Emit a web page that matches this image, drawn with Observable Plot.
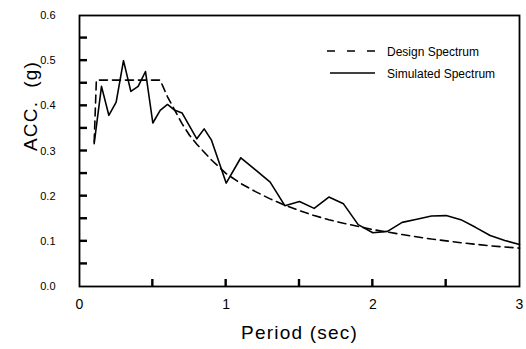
<!DOCTYPE html>
<html><head><meta charset="utf-8">
<script src="https://cdn.jsdelivr.net/npm/d3@7"></script>
<script src="https://cdn.jsdelivr.net/npm/@observablehq/plot@0.6"></script>
<style>
body{margin:0;background:#fff;}
#wrap{position:relative;width:526px;height:349px;font-family:"Liberation Sans",Arial,Helvetica,sans-serif;}
#overlay{position:absolute;left:0;top:0;pointer-events:none;}
</style></head><body><div id="wrap"></div>
<script>
const seriesNames = ["Design Spectrum", "Simulated Spectrum"];
const designPeriod = [0.10, 0.115, 0.55, 0.6, 0.65, 0.7, 0.75, 0.8, 0.9, 1.0, 1.1, 1.2, 1.3, 1.4, 1.5, 1.6, 1.7, 1.8, 2.0, 2.2, 2.4, 2.6, 2.8, 3.0];
const designAcc    = [0.32, 0.457, 0.457, 0.42, 0.39, 0.36, 0.335, 0.315, 0.28, 0.25, 0.228, 0.21, 0.194, 0.18, 0.168, 0.157, 0.148, 0.14, 0.126, 0.115, 0.105, 0.097, 0.09, 0.085];
const simPeriod = [0.1, 0.15, 0.2, 0.25, 0.3, 0.35, 0.4, 0.45, 0.5, 0.55, 0.6, 0.65, 0.7, 0.8, 0.85, 0.9, 1.0, 1.1, 1.2, 1.3, 1.4, 1.5, 1.6, 1.7, 1.8, 1.9, 2.0, 2.1, 2.2, 2.3, 2.4, 2.5, 2.6, 2.7, 2.8, 2.9, 3.0];
const simAcc    = [0.316, 0.443, 0.379, 0.408, 0.500, 0.432, 0.443, 0.476, 0.362, 0.390, 0.403, 0.390, 0.384, 0.327, 0.349, 0.324, 0.229, 0.285, 0.258, 0.231, 0.179, 0.188, 0.173, 0.198, 0.183, 0.137, 0.119, 0.122, 0.142, 0.149, 0.156, 0.157, 0.148, 0.131, 0.113, 0.102, 0.093];
const xTicks = [0, 1, 2, 3];
const xMinorTicks = [0.5, 1, 1.5, 2, 2.5];
const yTicks = [0, 0.1, 0.2, 0.3, 0.4, 0.5, 0.6];
const yMinorTicks = [0.05, 0.1, 0.15, 0.2, 0.25, 0.3, 0.35, 0.4, 0.45, 0.5, 0.55];
const xLabel = "Period (sec)";
const yLabel = "ACC.  (g)";

const design = designPeriod.map((t, i) => ({t, a: designAcc[i]}));
const sim = simPeriod.map((t, i) => ({t, a: simAcc[i]}));

const W = 526, H = 349, mL = 79, mR = 7, mT = 15, mB = 63;
const xDomain = [0, 3], yDomain = [0, 0.6];
const xPerPx = (xDomain[1] - xDomain[0]) / (W - mL - mR);
const yPerPx = (yDomain[1] - yDomain[0]) / (H - mT - mB);

const plot = Plot.plot({
  width: W, height: H,
  marginLeft: mL, marginRight: mR, marginTop: mT, marginBottom: mB,
  style: {fontFamily: '"Liberation Sans", Arial, Helvetica, sans-serif', background: "white", color: "black"},
  x: {domain: xDomain, label: null},
  y: {domain: yDomain, label: null},
  marks: [
    Plot.axisY(yTicks, {tickSize: 0, tickPadding: 24, tickFormat: d => d.toFixed(1), fontSize: 11, label: null}),
    Plot.axisX(xTicks, {tickSize: 0, tickPadding: 13, tickFormat: d => String(d), fontSize: 14, label: null}),
    Plot.line(design, {x: "t", y: "a", stroke: "black", strokeWidth: 1.6, strokeDasharray: "8,5"}),
    Plot.line(sim, {x: "t", y: "a", stroke: "black", strokeWidth: 1.6}),
    Plot.frame({stroke: "black", strokeWidth: 1.8}),
    Plot.rectY(yMinorTicks, {y1: d => d - 1.2 * yPerPx, y2: d => d + 1.2 * yPerPx, x1: xDomain[0], x2: xDomain[0] + 8 * xPerPx, fill: "black", inset: 0}),
    Plot.rectX(xMinorTicks, {x1: d => d - 1.2 * xPerPx, x2: d => d + 1.2 * xPerPx, y1: yDomain[0], y2: yDomain[0] + 7 * yPerPx, fill: "black", inset: 0}),
    Plot.text([xLabel], {frameAnchor: "bottom", dy: 52, fontSize: 19, fill: "black"}),
    Plot.text([yLabel], {frameAnchor: "left", dx: -49, rotate: -90, fontSize: 19, fill: "black"})
  ]
});
const wrap = document.getElementById("wrap");
wrap.appendChild(plot);
d3.select(wrap).selectAll("text").filter(function(){ return this.textContent === xLabel || this.textContent === yLabel; })
  .style("letter-spacing", "1.2px");

const ov = d3.select(wrap).append("svg").attr("id", "overlay").attr("width", W).attr("height", H);
const rows = [{name: seriesNames[0], dash: "8,12", y: 51, x1: 327, x2: 378}, {name: seriesNames[1], dash: null, y: 73, x1: 330, x2: 375}];
rows.forEach(r => {
  ov.append("line").attr("x1", r.x1).attr("x2", r.x2).attr("y1", r.y).attr("y2", r.y)
    .attr("stroke", "black").attr("stroke-width", 1.4).attr("stroke-dasharray", r.dash);
  ov.append("text").attr("x", 387).attr("y", r.y + 4.5).attr("font-size", 12)
    .attr("font-family", '"Liberation Sans", Arial, sans-serif').text(r.name);
});
</script>
</body></html>
